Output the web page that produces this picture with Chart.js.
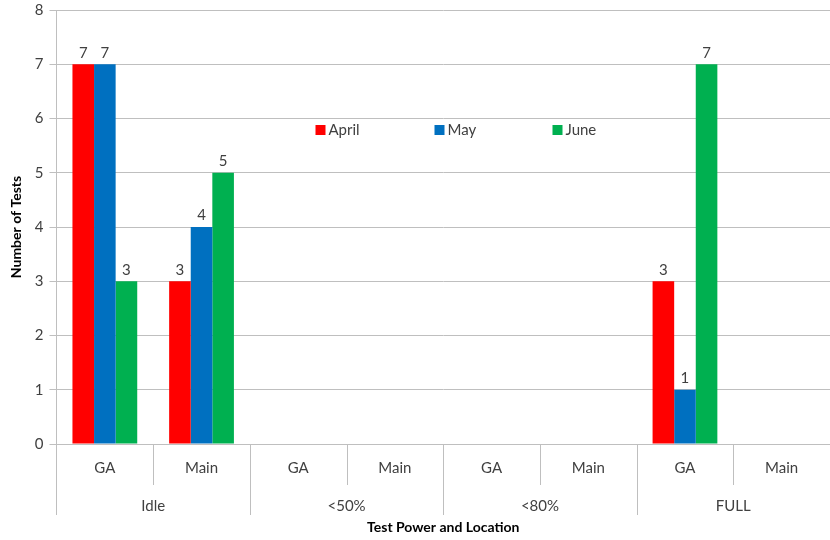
<!DOCTYPE html>
<html lang="en">
<head>
    <meta charset="UTF-8">
    <title>Number of Tests by Test Power and Location</title>
    <script src="https://cdn.jsdelivr.net/npm/chart.js"></script>
    <style>
        html, body { margin: 0; padding: 0; background: #fff; }
        .chart-box { width: 830px; height: 540px; position: relative; }
    </style>
</head>
<body>
    <div class="chart-box">
        <canvas id="testsChart"></canvas>
    </div>

    <script>
        // Chart data
        const locations = ['GA', 'Main', 'GA', 'Main', 'GA', 'Main', 'GA', 'Main'];
        const powerLevels = ['Idle', '<50%', '<80%', 'FULL'];
        const aprilTests = [7, 3, null, null, null, null, 3, null];
        const mayTests = [7, 4, null, null, null, null, 1, null];
        const juneTests = [3, 5, null, null, null, null, 7, null];
        const yTicks = [0, 1, 2, 3, 4, 5, 6, 7, 8];

        const fontFamily = 'Lato, "Open Sans", sans-serif';
        const textColor = '#404040';
        const gridColor = '#bfbfbf';

        // Value labels above each bar
        const barLabels = {
            id: 'barLabels',
            afterDatasetsDraw(chart) {
                const ctx = chart.ctx;
                ctx.save();
                ctx.font = '15px ' + fontFamily;
                ctx.fillStyle = textColor;
                ctx.textAlign = 'center';
                ctx.textBaseline = 'bottom';
                chart.data.datasets.forEach((ds, i) => {
                    chart.getDatasetMeta(i).data.forEach((bar, j) => {
                        if (ds.data[j] == null) return;
                        ctx.fillText(ds.data[j], bar.x, bar.y - 4);
                    });
                });
                ctx.restore();
            }
        };

        // Legend drawn inside the plot area, spread out like the original
        const insideLegend = {
            id: 'insideLegend',
            afterDraw(chart) {
                const ctx = chart.ctx;
                const area = chart.chartArea;
                const y = area.top + 120;
                const xs = [area.left + 259, area.left + 378, area.left + 496];
                ctx.save();
                ctx.font = '15px ' + fontFamily;
                ctx.textBaseline = 'middle';
                ctx.textAlign = 'left';
                chart.data.datasets.forEach((ds, i) => {
                    ctx.fillStyle = ds.backgroundColor;
                    ctx.fillRect(xs[i], y - 5, 10, 10);
                    ctx.fillStyle = textColor;
                    ctx.fillText(ds.label, xs[i] + 13, y);
                });
                ctx.restore();
            }
        };

        // Divider lines of the two-level category axis
        const axisDividers = {
            id: 'axisDividers',
            afterDraw(chart) {
                const ctx = chart.ctx;
                const x = chart.scales.x;
                const x2 = chart.scales.x2;
                ctx.save();
                ctx.strokeStyle = gridColor;
                ctx.lineWidth = 1;
                for (let i = 0; i <= locations.length; i++) {
                    const px = Math.round(x.getPixelForValue(i - 0.5)) + 0.5;
                    const bottom = i % 2 === 0 ? x2.top + 27 : x.bottom - 3;
                    ctx.beginPath();
                    ctx.moveTo(px, x.top);
                    ctx.lineTo(px, bottom);
                    ctx.stroke();
                }
                ctx.restore();
            }
        };

        const ctx = document.getElementById('testsChart').getContext('2d');
        new Chart(ctx, {
            type: 'bar',
            data: {
                labels: locations,
                datasets: [
                    { label: 'April', data: aprilTests, backgroundColor: '#ff0000' },
                    { label: 'May', data: mayTests, backgroundColor: '#0070c0' },
                    { label: 'June', data: juneTests, backgroundColor: '#00b050' }
                ]
            },
            options: {
                responsive: true,
                maintainAspectRatio: false,
                animation: false,
                layout: { padding: { top: 0, right: 0, left: 8, bottom: 2 } },
                datasets: {
                    bar: { categoryPercentage: 0.67, barPercentage: 1.0 }
                },
                plugins: {
                    legend: { display: false },
                    tooltip: { enabled: false }
                },
                scales: {
                    y: {
                        min: 0,
                        max: 8,
                        afterBuildTicks(axis) {
                            axis.ticks = yTicks.map(v => ({ value: v }));
                        },
                        afterFit(axis) { axis.paddingTop = 10; },
                        grid: { color: gridColor, tickLength: 7 },
                        border: { color: gridColor },
                        ticks: {
                            color: textColor,
                            font: { family: fontFamily, size: 15 },
                            padding: 6
                        },
                        title: {
                            display: true,
                            text: 'Number of Tests',
                            color: '#000',
                            font: { family: fontFamily, size: 14, weight: 'bold' },
                            padding: { top: 0, bottom: 4 }
                        }
                    },
                    x: {
                        position: 'bottom',
                        grid: { display: false },
                        border: { color: gridColor },
                        ticks: {
                            color: textColor,
                            font: { family: fontFamily, size: 15 },
                            padding: 7,
                            maxRotation: 0,
                            autoSkip: false
                        },
                        afterFit(axis) { axis.height = 44; }
                    },
                    x2: {
                        type: 'category',
                        axis: 'x',
                        position: 'bottom',
                        labels: powerLevels,
                        offset: true,
                        grid: { display: false },
                        border: { display: false },
                        ticks: {
                            color: textColor,
                            font: { family: fontFamily, size: 15 },
                            padding: 1,
                            maxRotation: 0,
                            autoSkip: false
                        },
                        title: {
                            display: true,
                            text: 'Test Power and Location',
                            color: '#000',
                            font: { family: fontFamily, size: 14, weight: 'bold' },
                            padding: { top: 2, bottom: 2 }
                        },
                        afterFit(axis) { axis.height = 50; }
                    }
                }
            },
            plugins: [barLabels, insideLegend, axisDividers]
        });
    </script>
</body>
</html>
